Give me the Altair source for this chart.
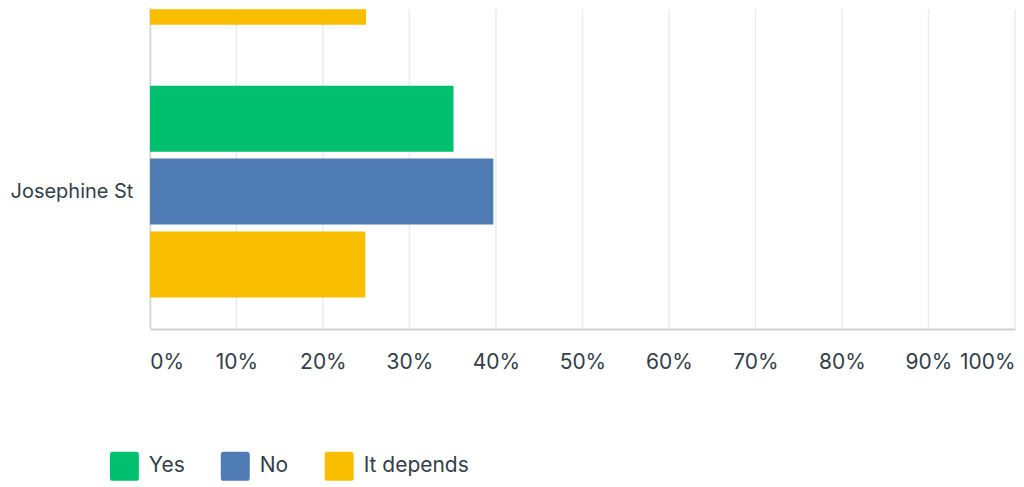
import altair as alt
import pandas as pd

# Categories (the first row is scrolled mostly out of view in the reference)
categories = ["Previous row", "Josephine St"]
answers = ["Yes", "No", "It depends"]
answer_colors = ["#00bf6f", "#507cb6", "#f9be00"]

# Bars (category, answer, share)
row_category = ["Previous row", "Josephine St", "Josephine St", "Josephine St"]
row_answer = ["It depends", "Yes", "No", "It depends"]
row_share = [0.25, 0.351, 0.397, 0.249]

tick_values = [0, 0.1, 0.2, 0.3, 0.4, 0.5, 0.6, 0.7, 0.8, 0.9, 1.0]

df = pd.DataFrame({"category": row_category, "answer": row_answer, "share": row_share})
grid_df = pd.DataFrame({"tick": tick_values[1:]})

text_color = "#333e48"
font = "Inter"
W, H = 866, 320

rounded_square = (
    "M-0.8,-1 H0.8 Q1,-1 1,-0.8 V0.8 Q1,1 0.8,1 H-0.8 Q-1,1 -1,0.8 "
    "V-0.8 Q-1,-1 -0.8,-1 Z"
)

x_scale = alt.Scale(domain=[0, 1], nice=False, zero=True)
x_axis = alt.Axis(
    values=tick_values,
    format=".0%",
    title=None,
    grid=False,
    ticks=False,
    domainColor="#d0d0d0",
    domainWidth=2,
    labelFlush=True,
    labelPadding=23,
    labelFontSize=21,
    labelColor=text_color,
    labelFont=font,
)

grid = (
    alt.Chart(grid_df)
    .mark_rule(color="#ebebeb", strokeWidth=1.5)
    .encode(x=alt.X("tick:Q", scale=x_scale, axis=x_axis), y=alt.value(0), y2=alt.value(H))
)

bars = (
    alt.Chart(df)
    .mark_bar(clip=True)
    .encode(
        x=alt.X("share:Q", scale=x_scale, axis=x_axis),
        y=alt.Y(
            "category:N",
            scale=alt.Scale(domain=categories, range=[-227, H - 1], paddingInner=0, paddingOuter=0),
            axis=alt.Axis(
                values=["Josephine St"],
                title=None,
                ticks=False,
                domainColor="#d8d8d8",
                domainWidth=2,
                labelPadding=17,
                labelFontSize=20,
                labelColor=text_color,
                labelFont=font,
                minExtent=142,
                maxExtent=142,
            ),
        ),
        yOffset=alt.YOffset(
            "answer:N",
            scale=alt.Scale(domain=answers, paddingInner=0.0959, paddingOuter=0.4178),
        ),
        color=alt.Color(
            "answer:N",
            scale=alt.Scale(domain=answers, range=answer_colors),
            legend=alt.Legend(
                orient="none",
                legendX=-40,
                legendY=443,
                direction="horizontal",
                title=None,
                symbolType=rounded_square,
                symbolSize=841,
                symbolStrokeWidth=0,
                labelFontSize=21,
                labelFont=font,
                labelColor=text_color,
                labelOffset=10,
                columnPadding=36,
            ),
        ),
    )
)

chart = (
    alt.layer(grid, bars)
    .properties(width=W, height=H, padding=0)
    .configure_view(stroke=None)
)

chart.save("out.html", embed_options={"renderer": "svg", "actions": False})
